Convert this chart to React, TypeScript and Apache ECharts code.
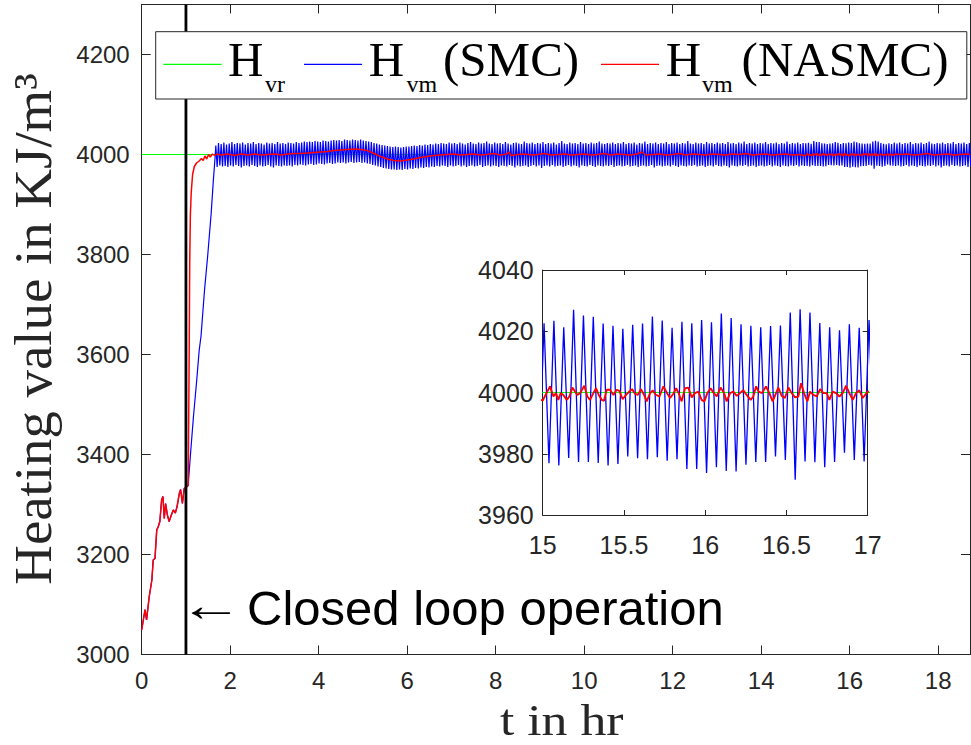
import React, { useEffect, useRef } from "react";
import * as echarts from "echarts";

// ---------- data (t in hours, heating value in kJ/m^3) ----------
const SETPOINT = 4000;
const T_END = 18.72;
const LOOP_CLOSED_AT = 1;

// open-loop part, identical for both controllers
const openLoopT = [0, 0.075, 0.11, 0.17, 0.23, 0.26, 0.3, 0.34, 0.375, 0.41, 0.45, 0.48, 0.51, 0.54, 0.58, 0.62, 0.67, 0.715, 0.76, 0.8, 0.85, 0.88, 0.92, 0.96, 1.0];
const openLoopV = [3049, 3090, 3069, 3116, 3149, 3189, 3192, 3249, 3256, 3266, 3309, 3316, 3272, 3302, 3279, 3266, 3279, 3289, 3283, 3296, 3322, 3330, 3302, 3332, 3334];

// SMC: climb after the loop is closed
const smcRiseT = [1.05, 1.11, 1.17, 1.24, 1.3, 1.34, 1.42, 1.49, 1.57, 1.62, 1.66];
const smcRiseV = [3338, 3409, 3476, 3545, 3609, 3636, 3729, 3796, 3882, 3949, 3996];

// SMC: chattering, alternate peak / trough samples every half period
const SMC_SWING_T0 = 1.675;
const SMC_SWING_STEP = 1 / 33;
const smcSwing = [
  4018, 3975, 4023, 3978, 4021, 3976, 4024, 3977, 4020, 3975,
  4022, 3978, 4025, 3976, 4021, 3979, 4023, 3977, 4022, 3974,
  4024, 3977, 4020, 3978, 4023, 3976, 4022, 3979, 4025, 3977,
  4021, 3975, 4023, 3978, 4022, 3976, 4020, 3977, 4024, 3979,
  4022, 3976, 4023, 3974, 4021, 3978, 4025, 3977, 4022, 3976,
  4023, 3978, 4021, 3977, 4024, 3978, 4023, 3976, 4022, 3979,
  4025, 3978, 4023, 3980, 4024, 3979, 4026, 3978, 4025, 3980,
  4026, 3981, 4025, 3979, 4027, 3980, 4026, 3982, 4025, 3981,
  4028, 3980, 4027, 3982, 4026, 3983, 4028, 3981, 4029, 3982,
  4028, 3984, 4029, 3983, 4027, 3984, 4030, 3982, 4029, 3984,
  4028, 3985, 4030, 3983, 4029, 3984, 4028, 3985, 4030, 3983,
  4028, 3984, 4027, 3982, 4026, 3981, 4025, 3979, 4023, 3978,
  4022, 3976, 4020, 3975, 4019, 3973, 4018, 3972, 4017, 3971,
  4016, 3970, 4015, 3970, 4016, 3969, 4015, 3970, 4014, 3969,
  4015, 3971, 4016, 3970, 4016, 3972, 4017, 3971, 4018, 3973,
  4017, 3972, 4019, 3974, 4018, 3973, 4020, 3975, 4019, 3974,
  4021, 3976, 4020, 3975, 4022, 3977, 4021, 3976, 4023, 3978,
  4022, 3977, 4021, 3975, 4024, 3978, 4022, 3976, 4023, 3977,
  4021, 3979, 4024, 3976, 4022, 3978, 4020, 3975, 4023, 3977,
  4025, 3978, 4022, 3976, 4021, 3977, 4024, 3979, 4022, 3975,
  4023, 3977, 4026, 3978, 4022, 3976, 4021, 3978, 4024, 3977,
  4022, 3975, 4023, 3978, 4021, 3977, 4025, 3976, 4022, 3979,
  4020, 3977, 4023, 3974, 4024, 3978, 4022, 3976, 4021, 3977,
  4026, 3978, 4023, 3975, 4022, 3977, 4024, 3979, 4021, 3976,
  4023, 3978, 4022, 3973, 4025, 3977, 4021, 3978, 4023, 3976,
  4022, 3979, 4024, 3976, 4020, 3977, 4023, 3978, 4027, 3975,
  4022, 3977, 4021, 3979, 4024, 3976, 4022, 3978, 4023, 3977,
  4021, 3974, 4025, 3978, 4022, 3977, 4023, 3976, 4021, 3979,
  4024, 3977, 4022, 3975, 4023, 3978, 4026, 3977, 4022, 3976,
  4021, 3978, 4023, 3977, 4022, 3979, 4024, 3975, 4021, 3977,
  4023, 3978, 4022, 3976, 4025, 3977, 4021, 3979, 4023, 3976,
  4022, 3977, 4024, 3978, 4020, 3975, 4023, 3977, 4022, 3978,
  4026, 3976, 4021, 3977, 4023, 3979, 4022, 3974, 4024, 3977,
  4021, 3978, 4023, 3976, 4022, 3977, 4025, 3978, 4021, 3976,
  4023, 3979, 4022, 3977, 4024, 3975, 4021, 3978, 4023, 3977,
  4022, 3976, 4027, 3978, 4022, 3977, 4021, 3979, 4024, 3976,
  4022, 3977, 4023, 3978, 4021, 3975, 4025, 3977, 4022, 3978,
  4023, 3976, 4021, 3979, 4024, 3977, 4022, 3976, 4023, 3978,
  4021, 3977, 4025, 3974, 4022, 3978, 4023, 3977, 4021, 3976,
  4024, 3978, 4022, 3977, 4026, 3979, 4021, 3976, 4023, 3977,
  4022, 3978, 4024, 3975, 4021, 3977, 4023, 3978, 4022, 3976,
  4025, 3977, 4021, 3979, 4023, 3976, 4022, 3978, 4024, 3977,
  4021, 3975, 4023, 3978, 4022, 3977, 4026, 3976, 4021, 3978,
  4023, 3977, 4022, 3979, 4024, 3976, 4021, 3978, 4023, 3977,
  4022.6, 3976.9, 4023.4, 3976.2, 4021.3, 3978.6, 4027.0, 3977.3, 4025.1, 3977.3,
  4024.7, 3977.0, 4022.5, 3976.2, 4021.8, 3976.7, 4020.8, 3979.1, 4022.1, 3978.5,
  4022.5, 3978.2, 4024.8, 3978.9, 4023.5, 3977.7, 4021.1, 3978.2, 4023.1, 3975.0,
  4022.6, 3975.0, 4023.7, 3973.7, 4022.9, 3975.6, 4025.8, 3974.4, 4024.3, 3974.2,
  4022.3, 3976.4, 4021.8, 3977.3, 4021.3, 3977.3, 4021.7, 3979.1, 4021.9, 3978.0,
  4026.1, 3971.5, 4027.2, 3977.5, 4026.1, 3977.2, 4022.7, 3975.6, 4021.3, 3977.3,
  4020.3, 3980.3, 4022.3, 3978.0, 4021.1, 3977.5,
  4023.7, 3977, 4022, 3978, 4024, 3976, 4021, 3977, 4023, 3979,
  4022, 3976, 4025, 3978, 4021, 3977, 4023, 3975, 4022, 3978,
  4024, 3977, 4021, 3976, 4023, 3978, 4026, 3977, 4022, 3979,
  4021, 3976, 4023, 3978, 4022, 3974, 4024, 3977, 4021, 3978,
  4023, 3976, 4022, 3979, 4025, 3977, 4021, 3978, 4023, 3976,
  4022, 3977, 4024, 3978, 4021, 3975, 4023, 3977,
];

// NASMC: closed-loop response [t, value]
const nasmcRise: [number, number][] = [
  [1.05, 3338], [1.07, 3560], [1.085, 3780], [1.1, 3880], [1.12, 3925], [1.15, 3960],
  [1.19, 3976], [1.24, 3983], [1.3, 3987], [1.35, 3992], [1.39, 3988], [1.43, 3997],
  [1.47, 3991], [1.51, 4000], [1.55, 3995], [1.6, 4001], [1.65, 3998], [1.7, 4001],
];
const nasmcSteady: [number, number][] = [
  [1.8, 3999], [1.95, 4001], [2.1, 3998], [2.25, 4001], [2.4, 3999], [2.55, 4001], [2.7, 3999],
  [2.85, 4000], [3.0, 4001], [3.15, 3999], [3.3, 4001], [3.45, 4002], [3.6, 4002], [3.75, 4003],
  [3.9, 4004], [4.05, 4005], [4.2, 4006], [4.35, 4008], [4.5, 4009], [4.65, 4010], [4.8, 4011],
  [4.95, 4010], [5.1, 4008], [5.25, 4002], [5.4, 3996], [5.55, 3991], [5.7, 3988], [5.85, 3987],
  [6.0, 3989], [6.15, 3991], [6.3, 3994], [6.45, 3996], [6.6, 3998], [6.75, 3999], [6.9, 4000],
  [7.05, 4001], [7.2, 3999], [7.35, 4000], [7.5, 4001], [7.65, 3999], [7.8, 4000], [7.95, 4002],
  [8.1, 3999], [8.25, 4001], [8.3, 4005], [8.35, 3998], [8.5, 4000], [8.65, 4001], [8.8, 3999],
  [8.95, 4000], [9.1, 4002], [9.25, 3999], [9.4, 4000], [9.55, 4001], [9.7, 3999], [9.85, 4000],
  [10.0, 4001], [10.15, 3999], [10.3, 4000], [10.45, 4002], [10.6, 3999], [10.75, 4001], [10.9, 4000],
  [11.05, 3999], [11.2, 4001], [11.3, 4005], [11.4, 3999], [11.55, 4000], [11.7, 4001], [11.85, 3999],
  [12.0, 4000], [12.15, 4002], [12.3, 3999], [12.45, 4001], [12.6, 4000], [12.75, 3999], [12.9, 4001],
  [13.05, 4000], [13.2, 3999], [13.35, 4001], [13.5, 4000], [13.65, 4002], [13.8, 3999], [13.95, 4000],
  [14.1, 4001], [14.25, 3999], [14.4, 4000], [14.55, 4001], [14.7, 3999], [14.85, 4000],
];
const nasmcDetail: [number, number][] = [
  [15.0, 3997.4], [15.045, 4002.0], [15.066, 3998.7], [15.082, 3999.8], [15.096, 3997.6], [15.111, 3999.8],
  [15.127, 3999.2], [15.148, 3997.6], [15.164, 3998.7], [15.183, 4001.6], [15.199, 4000.3], [15.213, 3999.2],
  [15.23, 3999.8], [15.256, 4002.2], [15.275, 3998.7], [15.291, 3997.6], [15.312, 3999.8], [15.328, 4001.4],
  [15.345, 3999.2], [15.363, 3997.6], [15.377, 3997.3], [15.394, 4000.9], [15.414, 4000.9], [15.435, 3999.2],
  [15.455, 4000.9], [15.472, 4000.5], [15.492, 3997.8], [15.513, 3999.2], [15.533, 4000.3], [15.55, 4001.1],
  [15.568, 3999.6], [15.585, 3999.2], [15.605, 4001.1], [15.624, 3999.2], [15.64, 3997.1], [15.661, 3999.8],
  [15.677, 4000.7], [15.697, 3999.2], [15.718, 3998.7], [15.743, 4002.0], [15.763, 4000.0], [15.784, 3998.2],
  [15.804, 3999.6], [15.821, 4001.4], [15.835, 4000.0], [15.855, 3997.1], [15.876, 4001.4], [15.896, 4001.6],
  [15.917, 3998.4], [15.937, 3999.8], [15.958, 4000.3], [15.978, 3997.6], [15.995, 3997.1], [16.013, 3999.8],
  [16.034, 4001.4], [16.05, 4000.0], [16.071, 3998.7], [16.095, 4001.6], [16.116, 3999.8], [16.132, 3997.1],
  [16.153, 3999.8], [16.173, 4000.3], [16.194, 3998.9], [16.214, 3999.8], [16.235, 4000.7], [16.255, 3999.2],
  [16.28, 3997.6], [16.296, 3998.7], [16.313, 4002.0], [16.329, 4000.3], [16.35, 3999.8], [16.374, 4002.0],
  [16.395, 3999.8], [16.415, 3997.1], [16.436, 3999.8], [16.45, 4001.6], [16.471, 3998.9], [16.491, 3998.2],
  [16.512, 4001.6], [16.532, 3999.8], [16.553, 3998.4], [16.573, 3998.7], [16.59, 4003.0], [16.608, 3999.8],
  [16.629, 3997.1], [16.645, 4000.3], [16.666, 3999.2], [16.686, 3998.7], [16.707, 4001.1], [16.727, 3999.8],
  [16.748, 3999.8], [16.764, 3997.6], [16.785, 4000.3], [16.805, 3999.8], [16.826, 3998.7], [16.846, 3999.8],
  [16.867, 4002.2], [16.887, 3999.8], [16.908, 3997.6], [16.928, 3999.8], [16.949, 4000.7], [16.969, 3998.2],
  [17.0, 4000.3],
];
const nasmcTail: [number, number][] = [
  [17.15, 4000], [17.3, 4001], [17.45, 3999], [17.6, 4000], [17.75, 4002], [17.9, 3999],
  [18.05, 4000], [18.2, 4001], [18.35, 3999], [18.5, 4000], [18.65, 4001], [18.72, 4000],
];

// axis ticks
const mainXTicks = { min: 0, max: T_END, interval: 2 };
const mainYTicks = { min: 3000, max: 4300, interval: 200, lastLabel: 4200 };
const insetXTicks = { min: 15, max: 17, interval: 0.5 };
const insetYTicks = { min: 3960, max: 4040, interval: 20 };

// ---------- series assembly ----------
const openLoop = openLoopT.map((t, i) => [t, openLoopV[i]]);
const smcData = [
  ...openLoop,
  ...smcRiseT.map((t, i) => [t, smcRiseV[i]]),
  ...smcSwing.map((v, k) => [SMC_SWING_T0 + k * SMC_SWING_STEP, v]),
];
const nasmcData = [...openLoop, ...nasmcRise, ...nasmcSteady, ...nasmcDetail, ...nasmcTail];
const refData = [[0, SETPOINT], [T_END, SETPOINT]];
const loopMarker = [[LOOP_CLOSED_AT, mainYTicks.min], [LOOP_CLOSED_AT, mainYTicks.max]];

const AXIS_COLOR = "#262626";
const SANS = "'Liberation Sans', Arial, Helvetica, sans-serif";
const SERIF = "'Liberation Serif', 'Times New Roman', serif";

const GREEN = "#00ff00";
const BLUE = "#0000ff";
const RED = "#ff0000";

function axisCommon(tickLen: number) {
  return {
    type: "value" as const,
    axisLine: { show: true, onZero: false, lineStyle: { color: AXIS_COLOR, width: 1 } },
    axisTick: { show: true, inside: true, length: tickLen, lineStyle: { color: AXIS_COLOR, width: 1 } },
    splitLine: { show: false },
  };
}

function txt(text: string, x: number, y: number, size: number, family: string, extra: any = {}) {
  return {
    type: "text",
    x,
    y,
    z: 100,
    rotation: extra.rotation || 0,
    scaleX: extra.scaleX || 1,
    silent: true,
    style: {
      text,
      fill: extra.fill || "#000",
      fontSize: size,
      fontFamily: family,
      align: extra.align || "left",
      verticalAlign: "middle",
    },
  };
}

function line(x1: number, x2: number, y: number, color: string, width: number) {
  return {
    type: "line",
    z: 100,
    silent: true,
    shape: { x1, y1: y, x2, y2: y },
    style: { stroke: color, lineWidth: width },
  };
}

const plainNumber = (v: number) => String(v);

function buildOption(): any {
  const lineSeries = (name: string, data: any[], color: string, width: number, xi: number, yi: number, z = 2) => ({
    name,
    type: "line",
    xAxisIndex: xi,
    yAxisIndex: yi,
    data,
    symbol: "none",
    silent: true,
    clip: true,
    z,
    lineStyle: { color, width },
    itemStyle: { color },
  });

  const legendMainY = 59.5;
  const legendSubY = 83.5;
  const subSize = 24;

  return {
    animation: false,
    backgroundColor: "#ffffff",
    grid: [
      { left: 141.7, top: 4.5, width: 828.3, height: 650 },
      { left: 542.7, top: 270, width: 325, height: 245, show: true, backgroundColor: "#ffffff", borderWidth: 0 },
    ],
    xAxis: [
      {
        ...axisCommon(9),
        gridIndex: 0,
        position: "bottom",
        min: mainXTicks.min,
        max: mainXTicks.max,
        interval: mainXTicks.interval,
        axisLabel: {
          show: true,
          margin: 14,
          color: AXIS_COLOR,
          fontSize: 24,
          fontFamily: SANS,
          showMaxLabel: false,
          formatter: (v: number) => (Math.abs(v - Math.round(v)) < 1e-9 ? String(v) : ""),
        },
      },
      {
        ...axisCommon(9),
        gridIndex: 0,
        position: "top",
        min: mainXTicks.min,
        max: mainXTicks.max,
        interval: mainXTicks.interval,
        axisLabel: { show: false },
      },
      {
        ...axisCommon(5),
        gridIndex: 1,
        position: "bottom",
        min: insetXTicks.min,
        max: insetXTicks.max,
        interval: insetXTicks.interval,
        axisLabel: { show: true, margin: 17, color: AXIS_COLOR, fontSize: 25, fontFamily: SANS, formatter: plainNumber },
      },
      {
        ...axisCommon(5),
        gridIndex: 1,
        position: "top",
        min: insetXTicks.min,
        max: insetXTicks.max,
        interval: insetXTicks.interval,
        axisLabel: { show: false },
      },
    ],
    yAxis: [
      {
        ...axisCommon(9),
        gridIndex: 0,
        position: "left",
        min: mainYTicks.min,
        max: mainYTicks.max,
        interval: mainYTicks.interval,
        axisLabel: {
          show: true,
          margin: 12,
          color: AXIS_COLOR,
          fontSize: 24,
          fontFamily: SANS,
          showMaxLabel: false,
          formatter: (v: number) => (v % mainYTicks.interval === 0 && v <= mainYTicks.lastLabel ? String(v) : ""),
        },
      },
      {
        ...axisCommon(9),
        gridIndex: 0,
        position: "right",
        min: mainYTicks.min,
        max: mainYTicks.max,
        interval: mainYTicks.interval,
        axisLabel: { show: false },
      },
      {
        ...axisCommon(5),
        gridIndex: 1,
        position: "left",
        min: insetYTicks.min,
        max: insetYTicks.max,
        interval: insetYTicks.interval,
        axisLabel: { show: true, margin: 9, color: AXIS_COLOR, fontSize: 25, fontFamily: SANS, formatter: plainNumber },
      },
      {
        ...axisCommon(5),
        gridIndex: 1,
        position: "right",
        min: insetYTicks.min,
        max: insetYTicks.max,
        interval: insetYTicks.interval,
        axisLabel: { show: false },
      },
    ],
    series: [
      lineSeries("H_vr", refData, GREEN, 1, 0, 0),
      lineSeries("H_vm (SMC)", smcData, BLUE, 1.2, 0, 0),
      lineSeries("H_vm (NASMC)", nasmcData, RED, 1.5, 0, 0),
      lineSeries("closed loop", loopMarker, "#000000", 2.8, 0, 0, 3),
      lineSeries("H_vr (inset)", refData, GREEN, 1.2, 2, 2, 4),
      lineSeries("H_vm (SMC) (inset)", smcData, BLUE, 1.3, 2, 2, 4),
      lineSeries("H_vm (NASMC) (inset)", nasmcData, RED, 1.9, 2, 2, 4),
    ],
    graphic: [
      // legend box
      {
        type: "rect",
        z: 99,
        silent: true,
        shape: { x: 155.7, y: 31.7, width: 811.1, height: 67.3 },
        style: { fill: "#ffffff", stroke: AXIS_COLOR, lineWidth: 1 },
      },
      line(163.3, 221.7, 64.3, GREEN, 1.3),
      txt("H", 228, legendMainY, 49, SERIF),
      txt("vr", 265, legendSubY, subSize, SERIF),
      line(304, 362, 64.3, BLUE, 1.3),
      txt("H", 368.8, legendMainY, 49, SERIF),
      txt("vm", 406.5, legendSubY, subSize, SERIF),
      txt("(SMC)", 443, legendMainY, 49, SERIF),
      line(601, 659, 64.3, RED, 1.3),
      txt("H", 665.7, legendMainY, 49, SERIF),
      txt("vm", 702, legendSubY, subSize, SERIF),
      txt("(NASMC)", 741.6, legendMainY, 49, SERIF),
      // axis titles
      txt("Heating value in KJ/m³", 33.2, 329, 53, SERIF, { align: "center", rotation: Math.PI / 2, scaleX: 1.035, fill: AXIS_COLOR }),
      txt("t in hr", 561.7, 720, 45, SERIF, { align: "center", scaleX: 1.15, fill: AXIS_COLOR }),
      // annotation of the loop-closing instant
      txt("←", 179, 605.5, 46, SERIF, { scaleX: 1.4 }),
      txt("Closed loop operation", 247, 608, 49, SANS),
    ],
  };
}

export default function App() {
  const ref = useRef<HTMLDivElement>(null);
  useEffect(() => {
    document.body.style.margin = "0";
    const chart = echarts.init(ref.current!, null, { renderer: "svg" });
    chart.setOption(buildOption());
    return () => chart.dispose();
  }, []);
  return (
    <div
      ref={ref}
      style={{ position: "fixed", left: 0, top: 0, width: 971, height: 745, background: "#fff" }}
    />
  );
}
